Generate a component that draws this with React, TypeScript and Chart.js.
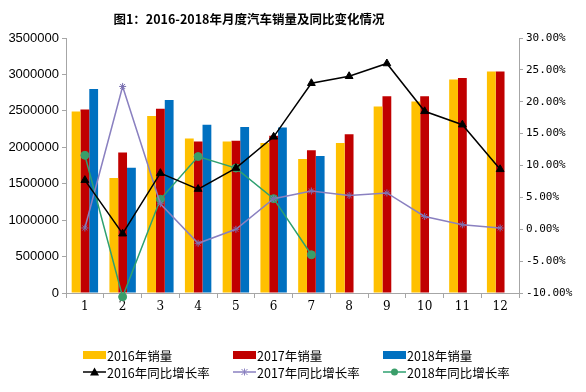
import React, { useEffect, useRef } from "react";
import { Chart, registerables } from "chart.js";

Chart.register(...registerables);

const months = ["1", "2", "3", "4", "5", "6", "7", "8", "9", "10", "11", "12"];
const sales2016 = [2490000, 1580000, 2430000, 2120000, 2080000, 2060000, 1840000, 2060000, 2560000, 2630000, 2930000, 3040000];
const sales2017 = [2520000, 1930000, 2530000, 2080000, 2090000, 2160000, 1960000, 2180000, 2700000, 2700000, 2950000, 3040000];
const sales2018 = [2800000, 1720000, 2650000, 2310000, 2280000, 2270000, 1880000, null, null, null, null, null];
const growth2016 = [7.7, -0.7, 8.8, 6.3, 9.6, 14.5, 22.9, 24.0, 26.0, 18.5, 16.4, 9.4];
const growth2017 = [0.2, 22.4, 4.0, -2.2, 0.0, 4.8, 6.0, 5.3, 5.7, 2.0, 0.7, 0.2];
const growth2018 = [11.6, -10.6, 4.7, 11.4, 9.6, 4.8, -4.0, null, null, null, null, null];
const legendLabels = ["2016年销量", "2017年销量", "2018年销量", "2016年同比增长率", "2017年同比增长率", "2018年同比增长率"];
const titleText = "图1：2016-2018年月度汽车销量及同比变化情况";

const FONT = "'Noto Sans CJK SC', 'DejaVu Sans', sans-serif";

const customPlugin = {
  id: "customDecor",
  afterDraw(chart: any) {
    const ctx = chart.ctx;
    ctx.save();
    // title
    ctx.fillStyle = "#000";
    ctx.font = `bold 12.5px ${FONT}`;
    ctx.textAlign = "center";
    ctx.textBaseline = "middle";
    ctx.fillText(titleText, 241, 11);
    // legend
    const ds = chart.data.datasets;
    ctx.font = `12.5px ${FONT}`;
    ctx.textAlign = "left";
    for (let i = 0; i < 6; i++) {
      const col = i % 3;
      const row = Math.floor(i / 3);
      const x = 75 + col * 150;
      const y = 347 + row * 17;
      const d = ds[i];
      if (i < 3) {
        ctx.fillStyle = d.backgroundColor;
        ctx.fillRect(x, y - 4, 23, 8);
      } else {
        ctx.strokeStyle = d.borderColor;
        ctx.lineWidth = d.borderWidth;
        ctx.beginPath();
        ctx.moveTo(x, y);
        ctx.lineTo(x + 23, y);
        ctx.stroke();
        ctx.fillStyle = d.pointBackgroundColor;
        const cx = x + 11.5;
        if (i === 3) {
          ctx.beginPath();
          ctx.moveTo(cx, y - 4.5);
          ctx.lineTo(cx + 4.5, y + 3.5);
          ctx.lineTo(cx - 4.5, y + 3.5);
          ctx.closePath();
          ctx.fill();
        } else if (i === 4) {
          ctx.lineWidth = 1;
          ctx.beginPath();
          ctx.moveTo(cx - 3, y - 3);
          ctx.lineTo(cx + 3, y + 3);
          ctx.moveTo(cx + 3, y - 3);
          ctx.lineTo(cx - 3, y + 3);
          ctx.moveTo(cx, y - 3.5);
          ctx.lineTo(cx, y + 3.5);
          ctx.stroke();
        } else {
          ctx.beginPath();
          ctx.arc(cx, y, 3.5, 0, Math.PI * 2);
          ctx.fill();
        }
      }
      ctx.fillStyle = "#000";
      ctx.fillText(legendLabels[i], x + 24, y + 1);
    }
    ctx.restore();
  },
};

export default function App() {
  const ref = useRef<HTMLCanvasElement | null>(null);
  useEffect(() => {
    if (!ref.current) return;
    const axisColor = "#a6a6a6";
    const chart = new Chart(ref.current, {
      type: "bar",
      data: {
        labels: months,
        datasets: [
          { type: "bar", label: legendLabels[0], data: sales2016, backgroundColor: "#FFC000", yAxisID: "y", order: 2 },
          { type: "bar", label: legendLabels[1], data: sales2017, backgroundColor: "#C00000", yAxisID: "y", order: 2 },
          { type: "bar", label: legendLabels[2], data: sales2018, backgroundColor: "#0070C0", yAxisID: "y", order: 2 },
          {
            type: "line", label: legendLabels[3], data: growth2016, yAxisID: "y1", order: 0,
            borderColor: "#000", borderWidth: 1.5, pointStyle: "triangle", pointRadius: 4.5,
            pointBackgroundColor: "#000", pointBorderColor: "#000", pointBorderWidth: 1,
          },
          {
            type: "line", label: legendLabels[4], data: growth2017, yAxisID: "y1", order: 0,
            borderColor: "#8A80C0", borderWidth: 1.5, pointStyle: "star", pointRadius: 3.5,
            pointBackgroundColor: "#8A80C0", pointBorderColor: "#7A70B0", pointBorderWidth: 1,
          },
          {
            type: "line", label: legendLabels[5], data: growth2018, yAxisID: "y1", order: 0,
            borderColor: "#2EA070", borderWidth: 1.5, pointStyle: "circle", pointRadius: 4,
            pointBackgroundColor: "#3A9E6A", pointBorderColor: "#3A9E6A", pointBorderWidth: 1,
            clip: false as any,
          },
        ] as any,
      },
      options: {
        animation: false,
        responsive: false,
        maintainAspectRatio: false,
        layout: { padding: { top: 30, left: 0, right: 0, bottom: 0 } },
        datasets: { bar: { categoryPercentage: 0.7, barPercentage: 1.0 } } as any,
        plugins: { legend: { display: false }, title: { display: false }, tooltip: { enabled: false } },
        scales: {
          x: {
            offset: true,
            grid: { offset: true, drawOnChartArea: false, drawTicks: true, tickLength: 5, color: axisColor },
            border: { color: axisColor },
            ticks: { color: "#000", font: { family: "'DejaVu Serif', serif", size: 12 }, padding: 2, maxRotation: 0 },
            afterFit: (s: any) => { s.height = 91; },
          },
          y: {
            position: "left",
            min: 0, max: 3500000,
            grid: { drawOnChartArea: false, drawTicks: true, tickLength: 4, color: axisColor },
            border: { color: axisColor },
            ticks: { stepSize: 500000, color: "#000", font: { family: "'Liberation Sans', sans-serif", size: 13 }, padding: 3, callback: (v: any) => String(v) },
            afterFit: (s: any) => { s.width = 58; },
          },
          y1: {
            position: "right",
            min: -10, max: 30,
            grid: { drawOnChartArea: false, drawTicks: true, tickLength: 4, color: axisColor },
            border: { color: axisColor },
            ticks: { stepSize: 5, color: "#000", font: { family: "'DejaVu Sans Mono', monospace", size: 11 }, padding: 3, callback: (v: any) => Number(v).toFixed(2) + "%" },
            afterFit: (s: any) => { s.width = 59; },
          },
        },
      } as any,
      plugins: [customPlugin],
    });
    return () => chart.destroy();
  }, []);
  return <canvas ref={ref} width={570} height={376} style={{ display: "block", width: 570, height: 376 }} />;
}
